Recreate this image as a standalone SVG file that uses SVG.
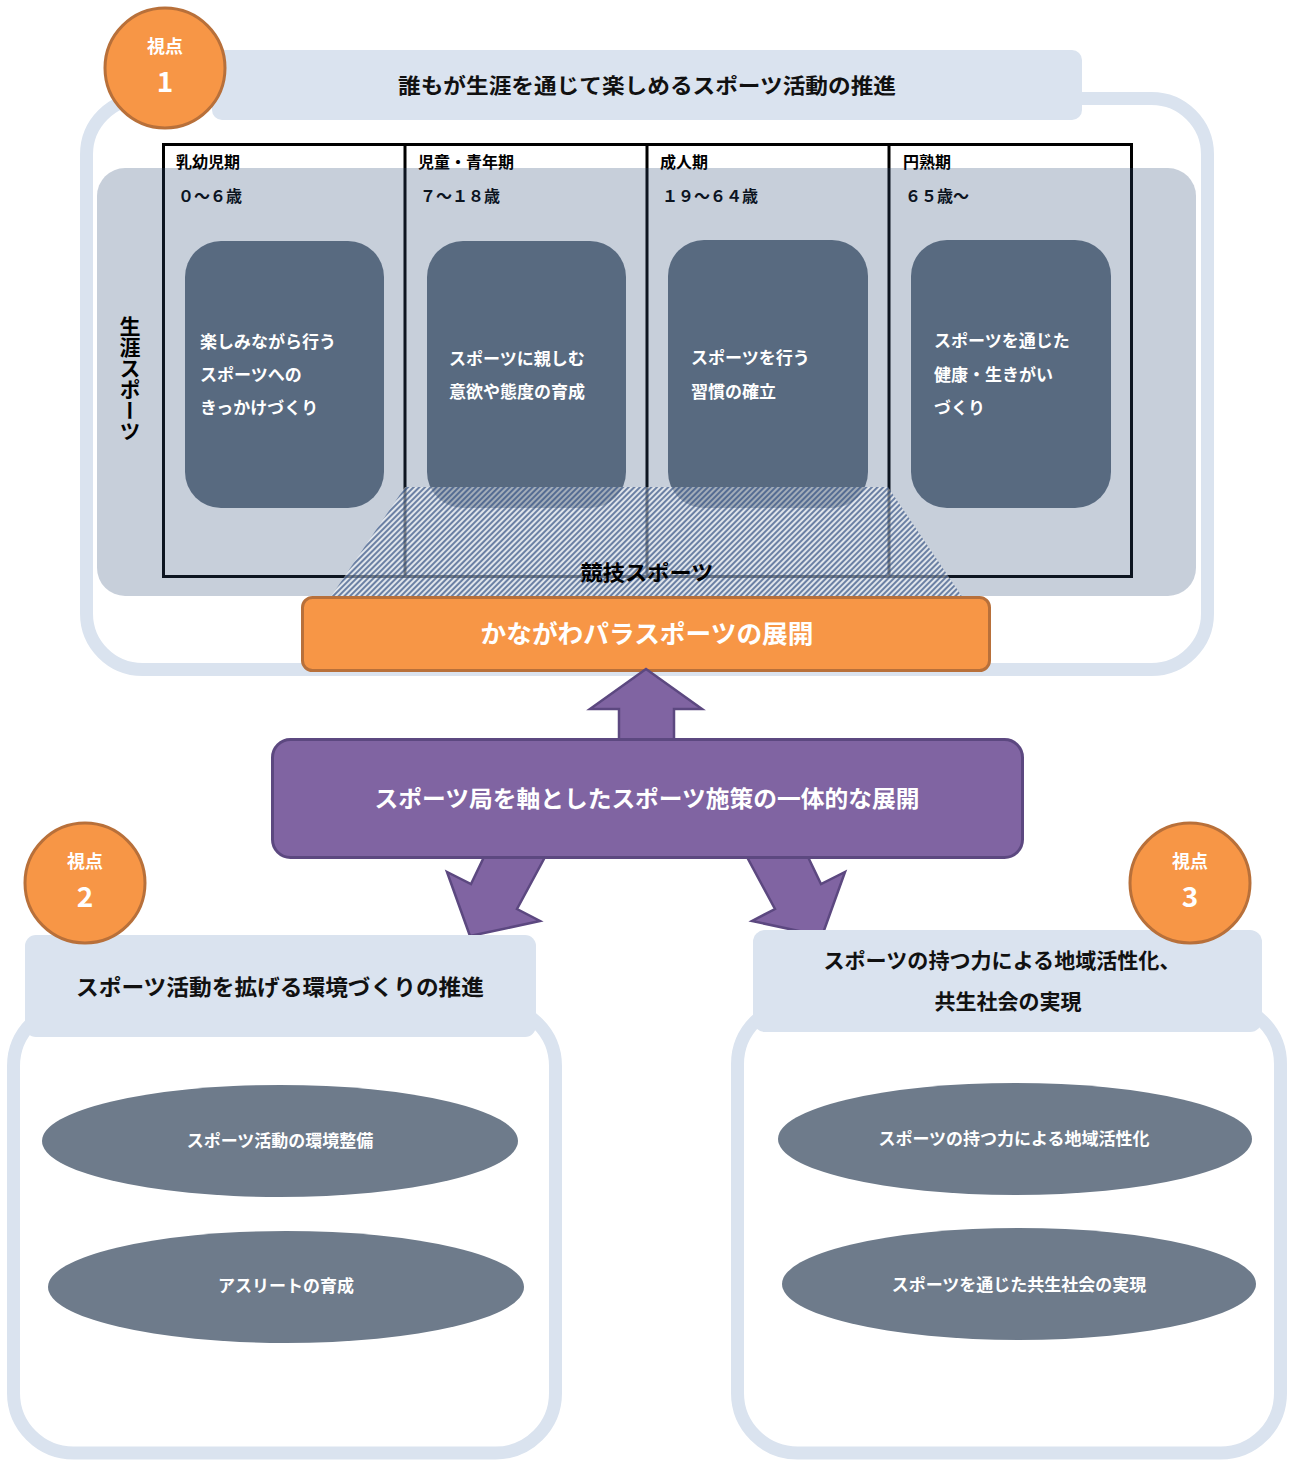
<svg xmlns="http://www.w3.org/2000/svg" width="1293" height="1461" viewBox="0 0 1293 1461">
<defs>
<pattern id="hatch" patternUnits="userSpaceOnUse" width="4" height="4" patternTransform="rotate(45)">
<rect width="4" height="4" fill="#ffffff" fill-opacity="0.45"/>
<line x1="1" y1="0" x2="1" y2="4" stroke="#26467a" stroke-width="1.7" stroke-opacity="0.75"/>
</pattern>
<style>
.t{font-family:"Noto Sans CJK JP","Noto Sans",sans-serif;font-weight:bold}
.frame{fill:#ffffff;stroke:#dae3ef;stroke-width:13}
.title{fill:#dae3ef}
.badge{fill:#f79646;stroke:#b8703a;stroke-width:3}
.bw{fill:#ffffff;text-anchor:middle}
.inner{fill:#586a80}
.ell{fill:#6e7b8b}
.purple{fill:#8064a2;stroke:#5c4880;stroke-width:3;stroke-linejoin:round}
.arrow{fill:#8064a2;stroke:#5c4880;stroke-width:2.5;stroke-linejoin:miter}
</style>
</defs>
<rect width="1293" height="1461" fill="#ffffff"/>

<!-- Panel 1 -->
<g id="panel1">
<rect class="frame" x="86.5" y="98.5" width="1121" height="571" rx="56"/>
<rect class="title" x="212" y="50" width="870" height="70" rx="10"/>
<text class="t" x="647" y="84" font-size="21" text-anchor="middle" dominant-baseline="central" fill="#111" textLength="498" lengthAdjust="spacingAndGlyphs">誰もが生涯を通じて楽しめるスポーツ活動の推進</text>
</g>

<g id="badge1">
<circle class="badge" cx="165" cy="68" r="60"/>
<text class="t bw" x="165" y="45" font-size="18" dominant-baseline="central">視点</text>
<text class="t bw" x="165" y="80" font-size="28" dominant-baseline="central">1</text>
</g>

<g id="lifestage-table">
<rect x="163.5" y="144.5" width="968" height="432" fill="#ffffff" stroke="#000000" stroke-width="3"/>
<line x1="405" y1="144" x2="405" y2="577" stroke="#000" stroke-width="3"/>
<line x1="647" y1="144" x2="647" y2="577" stroke="#000" stroke-width="3"/>
<line x1="889" y1="144" x2="889" y2="577" stroke="#000" stroke-width="3"/>
<g class="t" font-size="16" fill="#000">
<text x="176" y="161" dominant-baseline="central">乳幼児期</text>
<text x="418" y="161" dominant-baseline="central">児童・青年期</text>
<text x="660" y="161" dominant-baseline="central">成人期</text>
<text x="903" y="161" dominant-baseline="central">円熟期</text>
<text x="178" y="195" dominant-baseline="central">０～６歳</text>
<text x="420" y="195" dominant-baseline="central">７～１８歳</text>
<text x="662" y="195" dominant-baseline="central">１９～６４歳</text>
<text x="905" y="195" dominant-baseline="central">６５歳～</text>
</g>
</g>

<g id="lifelong-band">
<rect x="97" y="168" width="1099" height="428" rx="28" fill="#304e76" fill-opacity="0.27"/>
<text class="t" x="130" y="316" font-size="21" fill="#000" style="writing-mode:vertical-rl">生涯スポーツ</text>
</g>

<g id="stage1">
<rect class="inner" x="185" y="241" width="199" height="267" rx="36"/>
<g class="t" font-size="17" fill="#fff">
<text x="200" y="340" dominant-baseline="central">楽しみながら行う</text>
<text x="200" y="373" dominant-baseline="central">スポーツへの</text>
<text x="200" y="406" dominant-baseline="central">きっかけづくり</text>
</g>
</g>
<g id="stage2">
<rect class="inner" x="427" y="241" width="199" height="267" rx="36"/>
<g class="t" font-size="17" fill="#fff">
<text x="449" y="357" dominant-baseline="central">スポーツに親しむ</text>
<text x="449" y="390" dominant-baseline="central">意欲や態度の育成</text>
</g>
</g>
<g id="stage3">
<rect class="inner" x="668" y="240" width="200" height="268" rx="36"/>
<g class="t" font-size="17" fill="#fff">
<text x="691" y="356" dominant-baseline="central">スポーツを行う</text>
<text x="691" y="390" dominant-baseline="central">習慣の確立</text>
</g>
</g>
<g id="stage4">
<rect class="inner" x="911" y="240" width="200" height="268" rx="36"/>
<g class="t" font-size="17" fill="#fff">
<text x="934" y="339" dominant-baseline="central">スポーツを通じた</text>
<text x="934" y="373" dominant-baseline="central">健康・生きがい</text>
<text x="934" y="406" dominant-baseline="central">づくり</text>
</g>
</g>

<g id="competitive-sports">
<polygon points="405,487 888,487 963,598 330,598" fill="url(#hatch)"/>
<text class="t" x="647" y="571" font-size="21" text-anchor="middle" dominant-baseline="central" fill="#000" textLength="133" lengthAdjust="spacingAndGlyphs">競技スポーツ</text>
</g>

<g id="para-sports">
<rect x="302.5" y="597.5" width="687" height="73" rx="10" fill="#f79646" stroke="#b8703a" stroke-width="3"/>
<text class="t bw" x="647" y="632" font-size="25" dominant-baseline="central" textLength="333" lengthAdjust="spacingAndGlyphs">かながわパラスポーツの展開</text>
</g>

<!-- connectors -->
<g id="connectors">
<polygon class="arrow" points="619,741 619,709 590,709 646,669 702,709 674,709 674,741"/>
<polygon class="arrow" points="484,857 545,857 517,909 540,921 470,936 447,872 471,884"/>
<polygon class="arrow" points="808,857 747,857 775,909 752,921 822,936 845,872 821,884"/>
</g>

<g id="sports-bureau">
<rect class="purple" x="272.5" y="739.5" width="750" height="118" rx="18"/>
<text class="t bw" x="647" y="797" font-size="23" dominant-baseline="central" textLength="545" lengthAdjust="spacingAndGlyphs">スポーツ局を軸としたスポーツ施策の一体的な展開</text>
</g>

<!-- Panel 2 -->
<g id="panel2">
<rect class="frame" x="13.5" y="1006" width="542" height="447" rx="60"/>
<rect class="title" x="25" y="935" width="511" height="102" rx="11"/>
<text class="t" x="280" y="985" font-size="22" text-anchor="middle" dominant-baseline="central" fill="#111" textLength="408" lengthAdjust="spacingAndGlyphs">スポーツ活動を拡げる環境づくりの推進</text>
</g>
<g id="badge2">
<circle class="badge" cx="85" cy="883" r="60"/>
<text class="t bw" x="85" y="860" font-size="18" dominant-baseline="central">視点</text>
<text class="t bw" x="85" y="895" font-size="28" dominant-baseline="central">2</text>
</g>
<g id="env">
<ellipse class="ell" cx="280" cy="1141" rx="238" ry="56"/>
<text class="t bw" x="280" y="1139" font-size="17" dominant-baseline="central">スポーツ活動の環境整備</text>
</g>
<g id="athlete">
<ellipse class="ell" cx="286" cy="1287" rx="238" ry="56"/>
<text class="t bw" x="286" y="1284" font-size="17" dominant-baseline="central">アスリートの育成</text>
</g>

<!-- Panel 3 -->
<g id="panel3">
<rect class="frame" x="737.5" y="1004" width="543" height="449" rx="60"/>
<rect class="title" x="753" y="930" width="509" height="102" rx="12"/>
<text class="t" x="1002" y="959" font-size="21" text-anchor="middle" dominant-baseline="central" fill="#111" textLength="357" lengthAdjust="spacingAndGlyphs">スポーツの持つ力による地域活性化、</text>
<text class="t" x="1008" y="1000" font-size="21" text-anchor="middle" dominant-baseline="central" fill="#111">共生社会の実現</text>
</g>
<g id="badge3">
<circle class="badge" cx="1190" cy="883" r="60"/>
<text class="t bw" x="1190" y="860" font-size="18" dominant-baseline="central">視点</text>
<text class="t bw" x="1190" y="895" font-size="28" dominant-baseline="central">3</text>
</g>
<g id="region">
<ellipse class="ell" cx="1015" cy="1139" rx="237" ry="56"/>
<text class="t bw" x="1014" y="1137" font-size="17" dominant-baseline="central">スポーツの持つ力による地域活性化</text>
</g>
<g id="coexist">
<ellipse class="ell" cx="1019" cy="1284" rx="237" ry="56"/>
<text class="t bw" x="1019" y="1283" font-size="17" dominant-baseline="central">スポーツを通じた共生社会の実現</text>
</g>
</svg>
